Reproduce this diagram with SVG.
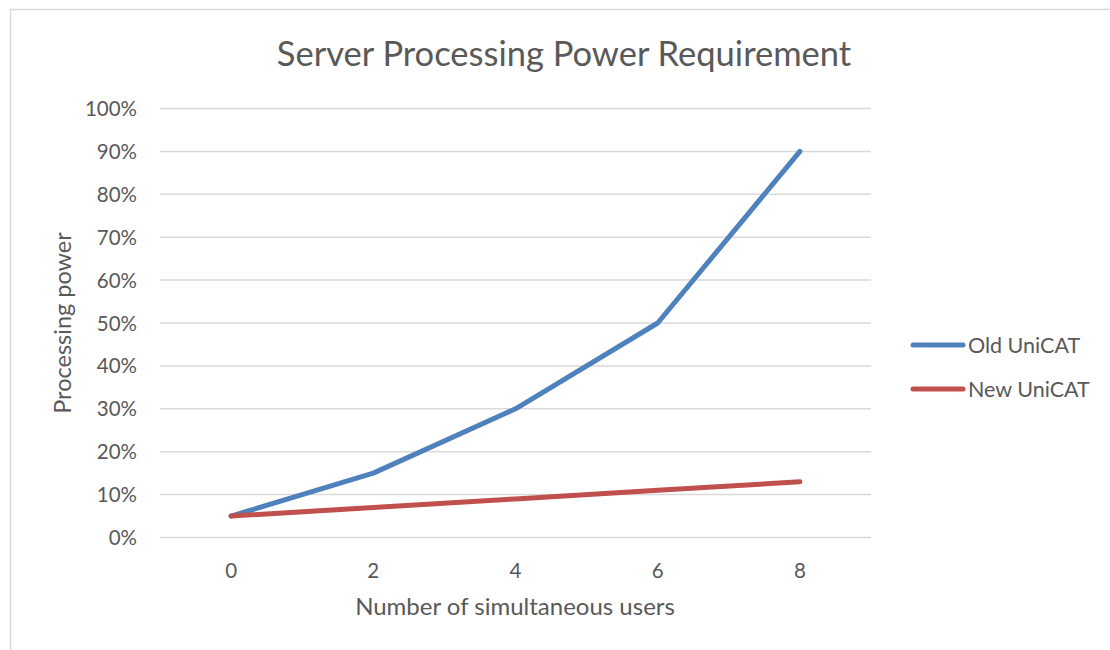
<svg xmlns="http://www.w3.org/2000/svg" width="1110" height="650" viewBox="0 0 1110 650">
<style>
text{font-family:Lato,"Liberation Sans",sans-serif;fill:#595959}
.grid{stroke:#d9d9d9;stroke-width:1.5}
.ylab{font-size:20.5px;text-anchor:end}
.xlab{font-size:20.5px;text-anchor:middle}
.leg{font-size:21.5px}
.ser{fill:none;stroke-width:5;stroke-linecap:round;stroke-linejoin:round}
.old{stroke:#4f81bd}
.new{stroke:#c0504d}
</style>
<rect x="0" y="0" width="1110" height="650" fill="#ffffff"/>
<path d="M10.5 650 V9.5 H1110" fill="none" stroke="#d9d9d9" stroke-width="1.5"/>
<g id="title"><text x="564" y="66" font-size="34.5" text-anchor="middle">Server Processing Power Requirement</text></g>
<g id="gridlines">
<line class="grid" x1="160" y1="108.5" x2="871" y2="108.5"/>
<line class="grid" x1="160" y1="151.4" x2="871" y2="151.4"/>
<line class="grid" x1="160" y1="194.3" x2="871" y2="194.3"/>
<line class="grid" x1="160" y1="237.2" x2="871" y2="237.2"/>
<line class="grid" x1="160" y1="280.1" x2="871" y2="280.1"/>
<line class="grid" x1="160" y1="323" x2="871" y2="323"/>
<line class="grid" x1="160" y1="365.9" x2="871" y2="365.9"/>
<line class="grid" x1="160" y1="408.8" x2="871" y2="408.8"/>
<line class="grid" x1="160" y1="451.7" x2="871" y2="451.7"/>
<line class="grid" x1="160" y1="494.6" x2="871" y2="494.6"/>
<line class="grid" x1="160" y1="537.5" x2="871" y2="537.5"/>
</g>
<g id="y-axis">
<text class="ylab" x="137" y="116">100%</text>
<text class="ylab" x="137" y="158.9">90%</text>
<text class="ylab" x="137" y="201.8">80%</text>
<text class="ylab" x="137" y="244.7">70%</text>
<text class="ylab" x="137" y="287.6">60%</text>
<text class="ylab" x="137" y="330.5">50%</text>
<text class="ylab" x="137" y="373.4">40%</text>
<text class="ylab" x="137" y="416.3">30%</text>
<text class="ylab" x="137" y="459.2">20%</text>
<text class="ylab" x="137" y="502.1">10%</text>
<text class="ylab" x="137" y="545">0%</text>
<text x="71" y="323" font-size="23.5" text-anchor="middle" transform="rotate(-90 71 323)">Processing power</text>
</g>
<g id="x-axis">
<text class="xlab" x="231.1" y="578">0</text>
<text class="xlab" x="373.3" y="578">2</text>
<text class="xlab" x="515.5" y="578">4</text>
<text class="xlab" x="657.7" y="578">6</text>
<text class="xlab" x="799.9" y="578">8</text>
<text x="515" y="615" font-size="24" text-anchor="middle">Number of simultaneous users</text>
</g>
<g id="connectors">
<polyline id="old-unicat" class="ser old" points="231.1,516.05 373.3,473.15 515.5,408.8 657.7,323 799.9,151.4"/>
<polyline id="new-unicat" class="ser new" points="231.1,516.05 373.3,507.47 515.5,498.89 657.7,490.31 799.9,481.73"/>
</g>
<g id="legend">
<line class="ser old" x1="913" y1="345" x2="963" y2="345"/>
<text class="leg" x="968" y="352.5">Old UniCAT</text>
<line class="ser new" x1="913" y1="389" x2="963" y2="389"/>
<text class="leg" x="968" y="396.5">New UniCAT</text>
</g>
</svg>
